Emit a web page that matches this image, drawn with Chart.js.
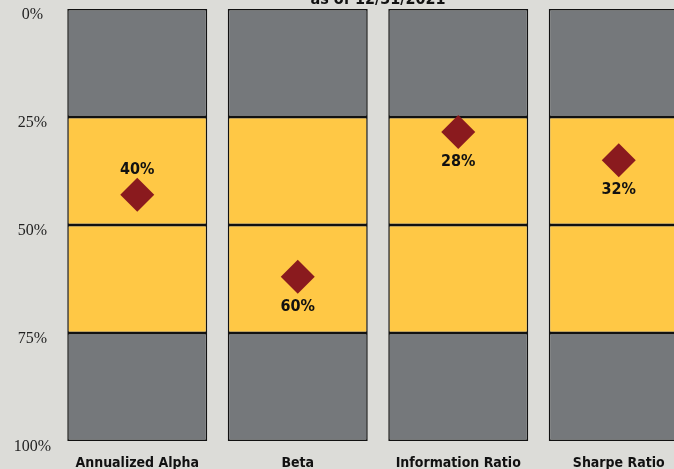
<!DOCTYPE html>
<html>
<head>
<meta charset="utf-8">
<script src="https://cdn.jsdelivr.net/npm/chart.js@4"></script>
<style>
  html, body { margin: 0; padding: 0; background: #dcdcd8; overflow: hidden; }
  #wrap { position: relative; width: 674px; height: 469px; overflow: hidden; }
  #box { position: absolute; left: 0; top: -8px; width: 716px; height: 477px; }
</style>
</head>
<body>
<div id="wrap"><div id="box"><canvas id="quartiles"></canvas></div></div>
<script>
// categories and values
var categories = ['Annualized Alpha', 'Beta', 'Information Ratio', 'Sharpe Ratio'];
var quartileBands = [25, 25, 25, 25];           // each band spans one quartile
var rankValues = [43, 62, 28.5, 35];            // diamond positions (percentile rank)
var rankLabels = ['40%', '60%', '28%', '32%'];  // printed labels
var tickLabels = ['0%', '25%', '50%', '75%', '100%'];

var GRAY = '#75787b';
var YELLOW = '#ffc845';
var MAROON = '#8a1a1e';

// label above the diamond only for the first column
var labelAbove = [true, false, false, false];

function band(color, i) {
    return {
        type: 'bar',
        data: categories.map(function(){ return quartileBands[i]; }),
        backgroundColor: color,
        borderColor: '#111',
        borderWidth: 1.5,
        borderSkipped: false,
        stack: 'q',
        order: 2
    };
}

var bands = [band(GRAY, 0), band(YELLOW, 1), band(YELLOW, 2), band(GRAY, 3)];

var rankPlugin = {
    id: 'rankLabels',
    afterDatasetsDraw: function(chart) {
        var ctx = chart.ctx;
        var meta = chart.getDatasetMeta(4);
        ctx.save();
        ctx.fillStyle = '#111';
        ctx.font = 'bold 16px "DejaVu Sans Condensed", "DejaVu Sans", sans-serif';
        ctx.textAlign = 'center';
        ctx.textBaseline = 'middle';
        meta.data.forEach(function(pt, i){
            var dy = labelAbove[i] ? -25 : 30;
            ctx.fillText(rankLabels[i], pt.x, pt.y + dy);
        });
        // title line, mostly cut off at the top of the picture
        ctx.textBaseline = 'alphabetic';
        var ca = chart.chartArea;
        ctx.fillText('as of 12/31/2021', (ca.left + ca.right) / 2, ca.top - 5);
        ctx.restore();
    }
};

var chart = new Chart(document.getElementById('quartiles').getContext('2d'), {
    data: {
        labels: categories,
        datasets: bands.concat([{
            type: 'line',
            data: rankValues,
            showLine: false,
            pointStyle: 'rectRot',
            pointRadius: 17,
            pointHoverRadius: 17,
            pointBackgroundColor: MAROON,
            pointBorderWidth: 0,
            borderColor: MAROON,
            order: 0
        }])
    },
    options: {
        responsive: true,
        maintainAspectRatio: false,
        animation: false,
        events: [],
        layout: { padding: { top: 9, left: 0, right: 0, bottom: 0 } },
        datasets: {
            bar: { categoryPercentage: 1, barPercentage: 0.872 }
        },
        plugins: {
            legend: { display: false },
            tooltip: { enabled: false }
        },
        scales: {
            x: {
                stacked: true,
                grid: { display: false, drawTicks: false },
                border: { display: false },
                ticks: {
                    padding: 14,
                    color: '#111',
                    font: { family: '"DejaVu Sans Condensed", "DejaVu Sans", sans-serif', size: 14, weight: 'bold' }
                },
                afterFit: function(axis){ axis.height = 28; }
            },
            y: {
                stacked: true,
                reverse: true,
                min: 0,
                max: 100,
                grid: { display: false, drawTicks: false },
                border: { display: false },
                ticks: {
                    stepSize: 25,
                    padding: 6,
                    labelOffset: 6,
                    crossAlign: 'center',
                    color: '#222',
                    font: { family: '"Liberation Serif", serif', size: 16 },
                    callback: function(v){ return tickLabels[v / 25]; }
                },
                afterFit: function(axis){ axis.width = 57; }
            }
        }
    },
    plugins: [rankPlugin]
});
</script>
</body>
</html>
